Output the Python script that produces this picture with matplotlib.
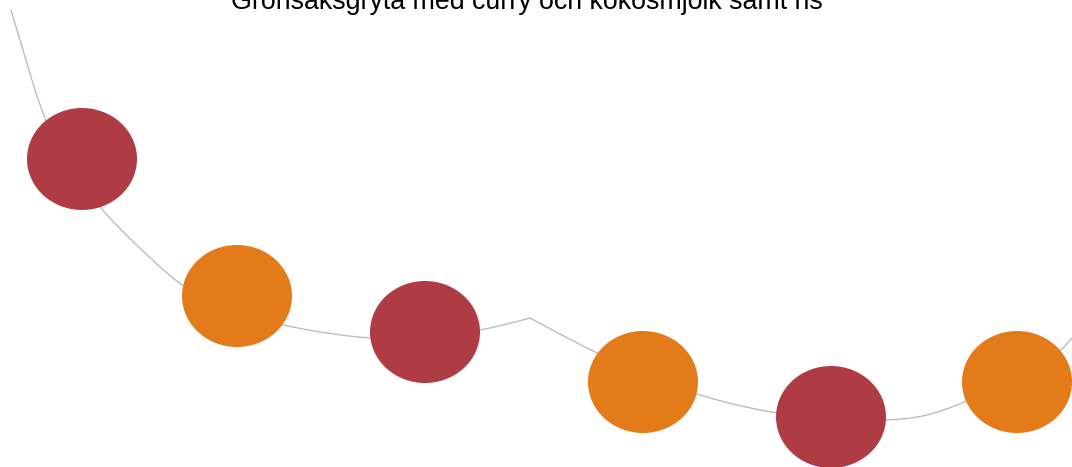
import numpy as np
import matplotlib
matplotlib.use("Agg")
import matplotlib.pyplot as plt
from matplotlib.patches import Ellipse

title = "Grönsaksgryta med curry och kokosmjölk samt ris"

# point positions (x) and levels (y, axis inverted)
point_x = [82, 237, 425, 643, 831, 1017]
point_y = [159, 296, 332, 382, 417, 382]
point_colors = ["#AF3C44", "#E47B1A", "#AF3C44", "#E47B1A", "#AF3C44", "#E47B1A"]

# connecting line path (two smooth pieces meeting at a kink)
line1_x = [11, 28, 45, 100, 145, 185, 283, 327, 370, 480, 503, 530]
line1_y = [10, 67, 118, 207, 253, 287, 325, 333, 338, 330, 325, 318]
line2_x = [530, 597, 697, 737, 777, 885, 927, 967, 1062, 1080]
line2_y = [318, 353, 394, 405, 413, 420, 415, 401, 349, 328]


def natural_spline_1d(t, y, tt):
    n = len(t)
    h = np.diff(t)
    A = np.zeros((n, n))
    b = np.zeros(n)
    A[0, 0] = A[-1, -1] = 1.0
    for i in range(1, n - 1):
        A[i, i - 1] = h[i - 1]
        A[i, i] = 2 * (h[i - 1] + h[i])
        A[i, i + 1] = h[i]
        b[i] = 6 * ((y[i + 1] - y[i]) / h[i] - (y[i] - y[i - 1]) / h[i - 1])
    M = np.linalg.solve(A, b)
    idx = np.clip(np.searchsorted(t, tt) - 1, 0, n - 2)
    t0, t1 = t[idx], t[idx + 1]
    hh = t1 - t0
    a = (t1 - tt) / hh
    c = (tt - t0) / hh
    return (a * y[idx] + c * y[idx + 1]
            + ((a ** 3 - a) * M[idx] + (c ** 3 - c) * M[idx + 1]) * hh ** 2 / 6)


def smooth_path(xs, ys, n=600):
    x = np.asarray(xs, float)
    y = np.asarray(ys, float)
    t = np.concatenate([[0], np.cumsum(np.hypot(np.diff(x), np.diff(y)))])
    tt = np.linspace(0, t[-1], n)
    return natural_spline_1d(t, x, tt), natural_spline_1d(t, y, tt)


fig = plt.figure(figsize=(10.72, 4.67), dpi=100)
ax = fig.add_axes([0, 0, 1, 1])
ax.set_xlim(0, 1072)
ax.set_ylim(467, 0)
ax.axis("off")

for lx, ly in [(line1_x, line1_y), (line2_x, line2_y)]:
    sx, sy = smooth_path(lx, ly)
    ax.plot(sx, sy, color="#BDBDBD", lw=1.0, zorder=1)

for x, y, col in zip(point_x, point_y, point_colors):
    ax.add_patch(Ellipse((x, y), 110, 102, facecolor=col, edgecolor="none", zorder=2))

ax.text(527, 9, title, ha="center", va="baseline", fontsize=19.25,
        family=["Liberation Sans", "DejaVu Sans"], color="#000000")

fig.savefig("out.png", dpi=100)
